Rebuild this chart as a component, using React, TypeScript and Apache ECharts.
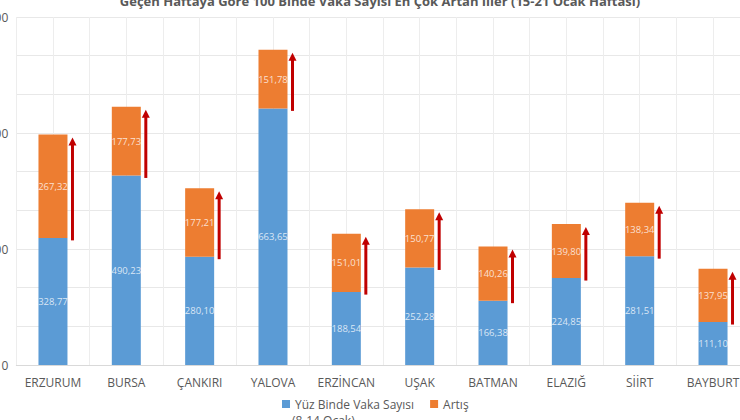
import React, { useEffect, useRef } from 'react';
import * as echarts from 'echarts';

const categories = ['ERZURUM', 'BURSA', 'ÇANKIRI', 'YALOVA', 'ERZİNCAN', 'UŞAK', 'BATMAN', 'ELAZIĞ', 'SİİRT', 'BAYBURT'];
const baseCases = [328.77, 490.23, 280.1, 663.65, 188.54, 252.28, 166.38, 224.85, 281.51, 111.1];
const increases = [267.32, 177.73, 177.21, 151.78, 151.01, 150.77, 140.26, 139.8, 138.34, 137.95];
const yLabeledTicks = [0, 300, 600, 900];

const titleText = 'Geçen Haftaya Göre 100 Binde Vaka Sayısı En Çok Artan İller (15-21 Ocak Haftası)';
const seriesBaseName = 'Yüz Binde Vaka Sayısı';
const seriesBaseSub = '(8-14 Ocak)';
const seriesIncName = 'Artış';

const fmt = (v: number) => v.toFixed(2).replace('.', ',');
const FONT = 'Open Sans';

export default function App() {
  const ref = useRef<HTMLDivElement>(null);
  useEffect(() => {
    const chart = echarts.init(ref.current!, null, { renderer: 'svg' });
    const arrowData = categories.map((_, i) => [i, baseCases[i], baseCases[i] + increases[i]]);
    chart.setOption({
      animation: false,
      textStyle: { fontFamily: FONT },
      title: {
        text: titleText,
        left: 'center',
        top: 4,
        padding: 0,
        textStyle: { fontSize: 13, fontWeight: 'bold', color: '#595959', fontFamily: FONT },
      },
      legend: {
        data: [seriesBaseName, seriesIncName],
        left: 277,
        top: 403,
        icon: 'rect',
        itemWidth: 8,
        itemHeight: 8,
        itemGap: 16,
        textStyle: { color: '#595959', fontSize: 12, fontFamily: FONT },
      },
      graphic: [
        {
          type: 'text',
          left: 292,
          top: 424,
          style: { text: seriesBaseSub, fill: '#595959', font: `12px "${FONT}"` },
        },
      ],
      grid: { left: 16.3, right: 10.3, top: 27, bottom: 65, containLabel: false, outerBoundsMode: 'none' },
      xAxis: [
        {
          type: 'category',
          data: categories,
          axisLine: { lineStyle: { color: '#d9d9d9' } },
          axisTick: { show: false },
          axisLabel: { color: '#595959', fontSize: 12, margin: 11, interval: 0 },
          splitLine: { show: false },
        },
        {
          type: 'value',
          min: 0,
          max: 20,
          interval: 1,
          position: 'bottom',
          axisLine: { show: false },
          axisTick: { show: false },
          axisLabel: { show: false },
          splitLine: { show: true, lineStyle: { color: '#ededed' } },
        },
      ],
      yAxis: {
        type: 'value',
        min: 0,
        max: 900,
        interval: 100,
        axisLine: { show: false },
        axisTick: { show: false },
        axisLabel: {
          color: '#595959',
          fontSize: 12,
          margin: 8,
          formatter: (v: number) => (yLabeledTicks.includes(v) ? String(v) : ''),
        },
        splitLine: { lineStyle: { color: '#e8e8e8' } },
      },
      series: [
        {
          name: seriesBaseName,
          type: 'bar',
          stack: 'total',
          barWidth: 29,
          data: baseCases,
          itemStyle: { color: '#5B9BD5' },
          label: {
            show: true,
            position: 'inside',
            formatter: (p: any) => fmt(p.value),
            color: 'rgba(255,255,255,0.78)',
            fontSize: 9.5,
            fontFamily: FONT,
          },
        },
        {
          name: seriesIncName,
          type: 'bar',
          stack: 'total',
          barWidth: 29,
          data: increases,
          itemStyle: { color: '#ED7D31' },
          label: {
            show: true,
            position: 'inside',
            formatter: (p: any) => fmt(p.value),
            color: 'rgba(255,255,255,0.78)',
            fontSize: 9.5,
            fontFamily: FONT,
          },
        },
        {
          type: 'custom',
          silent: true,
          z: 5,
          data: arrowData,
          renderItem: (_params: any, api: any) => {
            const pb = api.coord([api.value(0), api.value(1)]);
            const pt = api.coord([api.value(0), api.value(2)]);
            const x = pb[0] + 19.5;
            const yb = pb[1] + 2.5;
            const yt = pt[1] + 3;
            return {
              type: 'group',
              children: [
                { type: 'line', shape: { x1: x, y1: yb, x2: x, y2: yt + 7 }, style: { stroke: '#C00000', lineWidth: 3 } },
                { type: 'polygon', shape: { points: [[x - 4, yt + 8], [x + 4, yt + 8], [x, yt]] }, style: { fill: '#C00000' } },
              ],
            };
          },
        },
      ],
    });
    return () => chart.dispose();
  }, []);
  return (
    <div style={{ position: 'fixed', left: 0, top: 0, width: 740, height: 420, overflow: 'hidden', background: '#fff' }}>
      <div ref={ref} style={{ position: 'absolute', left: 0, top: -10, width: 760, height: 440 }} />
    </div>
  );
}
